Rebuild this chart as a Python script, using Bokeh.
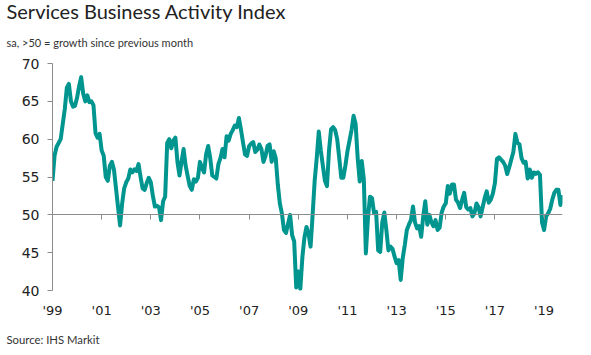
from bokeh.plotting import figure
from bokeh.models import Range1d, FixedTicker, LinearAxis, Title, ColumnDataSource
from bokeh.embed import file_html
from bokeh.resources import INLINE

start_year = 1999
y1999 = [54.5, 57.8, 59.0, 59.5, 60.0, 62.0, 64.0, 66.8, 67.3, 65.0, 64.3, 64.4]
y2000 = [65.5, 67.0, 68.2, 66.0, 65.0, 65.8, 64.9, 65.0, 64.5, 60.8, 60.2, 60.7]
y2001 = [58.5, 57.8, 55.0, 54.5, 56.5, 57.0, 56.0, 53.5, 51.0, 48.6, 51.5, 53.5]
y2002 = [54.3, 54.8, 56.0, 55.6, 56.0, 55.8, 56.7, 55.0, 53.5, 53.3, 54.2, 54.9]
y2003 = [54.3, 52.5, 51.1, 51.2, 51.0, 49.3, 51.8, 52.4, 59.5, 60.0, 58.8, 59.8]
y2004 = [60.2, 57.0, 55.2, 57.0, 58.7, 56.5, 55.1, 53.8, 53.3, 54.7, 54.4, 54.9]
y2005 = [57.0, 56.2, 55.6, 58.0, 59.1, 57.5, 55.2, 55.0, 54.8, 56.7, 57.5, 58.7]
y2006 = [57.6, 60.4, 59.8, 60.7, 61.2, 61.8, 61.6, 62.8, 61.3, 59.6, 58.0, 57.8]
y2007 = [59.1, 59.4, 59.6, 58.3, 58.6, 59.3, 58.7, 57.0, 57.8, 59.1, 59.3, 57.0]
y2008 = [58.4, 57.5, 54.0, 51.5, 50.2, 48.0, 47.6, 48.8, 50.0, 47.3, 46.5, 40.4]
y2009 = [42.5, 40.2, 44.4, 47.0, 48.4, 47.5, 45.8, 50.0, 54.5, 57.5, 61.0, 58.5]
y2010 = [56.5, 54.5, 53.8, 58.5, 61.3, 61.6, 61.2, 60.0, 57.5, 54.9, 54.9, 56.5]
y2011 = [58.4, 59.8, 61.2, 63.1, 62.0, 57.5, 54.4, 57.1, 54.7, 44.9, 49.5, 52.4]
y2012 = [52.2, 50.2, 50.4, 45.3, 45.1, 49.0, 50.3, 48.0, 45.3, 45.8, 45.5, 44.5]
y2013 = [43.6, 44.0, 41.4, 44.3, 46.0, 48.0, 48.7, 49.3, 51.1, 49.0, 48.2, 48.5]
y2014 = [47.1, 49.8, 51.8, 48.7, 50.0, 49.0, 48.5, 49.3, 48.0, 48.3, 50.3, 51.1]
y2015 = [51.5, 53.8, 52.8, 54.0, 54.0, 52.0, 51.6, 50.9, 52.0, 52.9, 51.0, 50.7]
y2016 = [50.9, 49.8, 50.2, 51.5, 51.0, 49.8, 51.0, 52.2, 53.1, 51.6, 52.0, 52.8]
y2017 = [54.2, 57.4, 57.6, 57.3, 57.0, 56.5, 55.4, 56.3, 57.3, 58.3, 60.7, 59.5]
y2018 = [59.3, 57.5, 56.9, 57.0, 54.8, 56.0, 54.9, 55.6, 55.4, 55.6, 55.3, 49.0]
y2019 = [48.0, 49.8, 50.2, 50.8, 52.0, 52.9, 53.3, 53.3, 51.3, 52.6]

tick_years = [1999, 2001, 2003, 2005, 2007, 2009, 2011, 2013, 2015, 2017, 2019]
tick_labels = ["'99", "'01", "'03", "'05", "'07", "'09", "'11", "'13", "'15", "'17", "'19"]
y_ticks = [40, 45, 50, 55, 60, 65, 70]

title_text = "Services Business Activity Index"
subtitle_text = "sa, >50 = growth since previous month"
source_text = "Source: IHS Markit"

values = (y1999 + y2000 + y2001 + y2002 + y2003 + y2004 + y2005 + y2006 + y2007
          + y2008 + y2009 + y2010 + y2011 + y2012 + y2013 + y2014 + y2015 + y2016
          + y2017 + y2018 + y2019)
xs = [start_year + i / 12 for i in range(len(values))]
src = ColumnDataSource(dict(x=xs, y=values))

LINE = "#00968F"
AXIS = "#8c8c8c"
TXT = "#222222"

p = figure(width=591, height=355, output_backend="svg", toolbar_location=None,
           x_range=Range1d(start_year, xs[-1]), y_range=Range1d(40, 70),
           min_border_left=52, min_border_right=29, min_border_top=10,
           min_border_bottom=10)
p.outline_line_color = None
p.grid.visible = False
p.background_fill_color = "white"

p.line("x", "y", source=src, line_color=LINE, line_width=4, line_join="round")

# bottom axis: labels only
xa = p.xaxis[0]
xa.ticker = FixedTicker(ticks=tick_years)
xa.major_label_overrides = {t: l for t, l in zip(tick_years, tick_labels)}
xa.axis_line_color = None
xa.major_tick_line_color = None
xa.minor_tick_line_color = None
xa.major_label_standoff = 6
xa.major_label_text_font = "DejaVu Sans"
xa.major_label_text_font_size = "13px"
xa.major_label_text_color = TXT

# axis line at 50 with downward ticks
ax50 = LinearAxis(fixed_location=50, ticker=FixedTicker(ticks=tick_years))
ax50.axis_line_color = AXIS
ax50.major_tick_line_color = AXIS
ax50.major_tick_out = 5
ax50.major_tick_in = 0
ax50.minor_tick_line_color = None
ax50.major_label_text_font_size = "0px"
ax50.major_label_text_alpha = 0
p.add_layout(ax50, "below")

ya = p.yaxis[0]
ya.ticker = FixedTicker(ticks=y_ticks)
ya.axis_line_color = AXIS
ya.major_tick_line_color = AXIS
ya.major_tick_out = 5
ya.major_tick_in = 0
ya.minor_tick_line_color = None
ya.major_label_standoff = 8
ya.major_label_text_font = "DejaVu Sans"
ya.major_label_text_font_size = "14px"
ya.major_label_text_color = TXT

sub = Title(text=subtitle_text, text_font="Lato", text_font_size="11px",
            text_font_style="normal", text_color="#333333", align="left",
            offset=-46, standoff=29)
p.add_layout(sub, "above")
ttl = Title(text=title_text, text_font="Lato", text_font_size="20px",
            text_font_style="normal", text_color=TXT, align="left",
            offset=-46, standoff=-7)
p.add_layout(ttl, "above")

srct = Title(text=source_text, text_font="Lato", text_font_size="11.3px",
             text_font_style="normal", text_color="#333333", align="left",
             offset=-46, standoff=20)
p.add_layout(srct, "below")

open("out.html", "w").write(file_html(p, INLINE))
